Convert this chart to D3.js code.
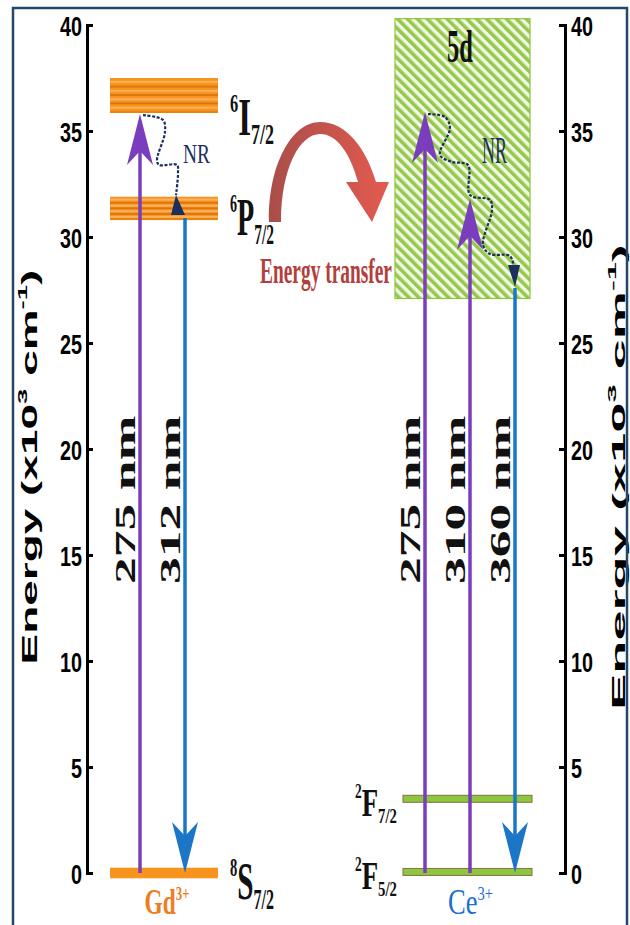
<!DOCTYPE html>
<html lang="en">
<head>
<meta charset="utf-8">
<title>Gd3+ to Ce3+ energy transfer diagram</title>
<script src="https://d3js.org/d3.v7.min.js"></script>
<style>
  body { margin: 0; background: #fff; }
  svg { display: block; }
</style>
</head>
<body>
<script>
// ---- data ----
var energyTicks = [0, 5, 10, 15, 20, 25, 30, 35, 40];
var gdLevels = [
  {sup: "6", term: "I", sub: "7/2", lo: 35.85, hi: 37.5},
  {sup: "6", term: "P", sub: "7/2", lo: 30.8, hi: 31.9},
  {sup: "8", term: "S", sub: "7/2", lo: -0.25, hi: 0.25}
];
var ceLevels = [
  {sup: "2", term: "F", sub: "7/2", e: 3.5},
  {sup: "2", term: "F", sub: "5/2", e: 0.05}
];
var ce5d = {name: "5d", lo: 27.1, hi: 40.3};
var gdArrows = [
  {label: "275 nm", from: 0, to: 35.8},
  {label: "312 nm", from: 30.9, to: 0}
];
var ceArrows = [
  {label: "275 nm", from: 0, to: 35.9},
  {label: "310 nm", from: 0, to: 31.8},
  {label: "360 nm", from: 27.6, to: 0}
];
// non radiative relaxation, energies along the wiggle
var gdNR = [35.75, 35.52, 34.95, 33.63, 33.4, 33.4, 33.02, 31.98];
var ceNR = [35.8, 35.66, 35.14, 33.87, 33.54, 33.4, 31.98, 31.75, 31.27, 29.62, 29.2, 29.1, 28.54];

// ---- layout ----
var w = 630, h = 925;
var serif = "'Liberation Serif', 'Times New Roman', serif";
var sans = "'Liberation Sans', Arial, sans-serif";
var purple = "#7a3dbd", blue = "#1b76c8", navy = "#1d2f5f";
var orange = "#f7941e";
var gdNRdx = [3, 23, 25, 17, 19, 37, 38, 36];
var ceNRdx = [3, 20, 25, 15, 27, 43, 45, 65, 67, 58, 65, 85, 89];
var gdLabelDy = [22, 15, 21];

var y = d3.scaleLinear().domain([0, 40]).range([873, 25]);
var gdX = [110, 218], ceX = [403, 532], boxX = [395, 530];
var xGd = d3.scalePoint().domain(gdArrows.map(function(d) { return d.label; })).range([140, 185]);
var xCe = d3.scalePoint().domain(ceArrows.map(function(d) { return d.label; })).range([425, 515]);

var svg = d3.select("body").append("svg")
  .attr("width", w)
  .attr("height", h);

var defs = svg.append("defs");
var pat = defs.append("pattern")
  .attr("id", "hatch")
  .attr("patternUnits", "userSpaceOnUse")
  .attr("width", 7).attr("height", 7)
  .attr("patternTransform", "rotate(-45)");
pat.append("rect").attr("width", 7).attr("height", 7).attr("fill", "#f3f9e6");
pat.append("rect").attr("width", 3.6).attr("height", 7).attr("fill", "#94c94c");

var grad = defs.append("linearGradient")
  .attr("id", "etGrad")
  .attr("gradientUnits", "userSpaceOnUse")
  .attr("x1", 269).attr("x2", 388).attr("y1", 0).attr("y2", 0);
grad.append("stop").attr("offset", 0).attr("stop-color", "#a94e4a");
grad.append("stop").attr("offset", 1).attr("stop-color", "#e35a4f");

// helper: squeeze text along its length to a given width
function fit(t, len) {
  return len / t.node().getBBox().width;
}

// ---- axes ----
var axL = svg.append("g")
  .attr("transform", "translate(87,0)")
  .call(d3.axisLeft(y).tickValues(energyTicks).tickSize(-6).tickPadding(5));
var axR = svg.append("g")
  .attr("transform", "translate(565,0)")
  .call(d3.axisRight(y).tickValues(energyTicks).tickSize(-6).tickPadding(6));
[axL, axR].forEach(function(ax) {
  ax.select(".domain").attr("stroke", "#000").attr("stroke-width", 3);
  ax.selectAll(".tick line").attr("stroke", "#000").attr("stroke-width", 3);
  ax.selectAll(".tick text")
    .attr("font-family", sans)
    .attr("font-weight", "bold")
    .attr("font-size", 28)
    .attr("fill", "#000")
    .attr("dy", "0.36em")
    .attr("textLength", function(d) { return String(d).length * 11; })
    .attr("lengthAdjust", "spacingAndGlyphs");
});

function axisTitle(cx, cy, fs, len) {
  var t = svg.append("text")
    .attr("font-family", sans)
    .attr("font-weight", "bold")
    .attr("font-size", fs)
    .attr("text-anchor", "middle")
    .attr("fill", "#000");
  t.append("tspan").text("Energy (x10");
  t.append("tspan").attr("font-size", fs * 0.6).attr("dy", -fs * 0.45).text("3");
  t.append("tspan").attr("dy", fs * 0.45).text("\u00a0cm");
  t.append("tspan").attr("font-size", fs * 0.6).attr("dy", -fs * 0.45).text("-1");
  t.append("tspan").attr("dy", fs * 0.45).text(")");
  t.attr("transform", "translate(" + cx + "," + cy + ") rotate(-90) scale(" + fit(t, len) + ",1)");
}
axisTitle(37, 467, 22, 395);
axisTitle(625, 477, 19, 466);

// ---- Ce 5d band ----
svg.append("rect")
  .attr("x", boxX[0]).attr("width", boxX[1] - boxX[0])
  .attr("y", y(ce5d.hi)).attr("height", y(ce5d.lo) - y(ce5d.hi))
  .attr("fill", "url(#hatch)")
  .attr("stroke", "#8cc63f").attr("stroke-width", 1.2);

// ---- Gd levels ----
var gLev = svg.append("g");
gdLevels.forEach(function(d) {
  var y0 = y(d.hi), hh = y(d.lo) - y(d.hi);
  gLev.append("rect")
    .attr("x", gdX[0]).attr("width", gdX[1] - gdX[0])
    .attr("y", y0).attr("height", hh)
    .attr("fill", orange);
  if (hh > 15) {
    [0.08, 0.34, 0.58, 0.82].forEach(function(f) {
      gLev.append("rect").attr("x", gdX[0]).attr("width", gdX[1] - gdX[0])
        .attr("y", y0 + f * hh).attr("height", 2).attr("fill", "#fbb25a");
    });
    [0.22, 0.46, 0.7].forEach(function(f) {
      gLev.append("rect").attr("x", gdX[0]).attr("width", gdX[1] - gdX[0])
        .attr("y", y0 + f * hh).attr("height", 1.8).attr("fill", "#dc7410");
    });
    gLev.append("rect").attr("x", gdX[0]).attr("width", gdX[1] - gdX[0])
      .attr("y", y0 + hh - 2).attr("height", 2).attr("fill", "#e8850f");
  }
});

// ---- Ce levels ----
ceLevels.forEach(function(d) {
  gLev.append("rect")
    .attr("x", ceX[0]).attr("width", ceX[1] - ceX[0])
    .attr("y", y(d.e) - 3.5).attr("height", 7)
    .attr("fill", "#8dc63f")
    .attr("stroke", "#86713f").attr("stroke-width", 1);
});

// ---- arrows ----
function drawArrow(x, d) {
  var up = d.to > d.from;
  var col = up ? purple : blue;
  var yTip = y(d.to), s = up ? 1 : -1;
  svg.append("line")
    .attr("x1", x).attr("x2", x)
    .attr("y1", y(d.from)).attr("y2", yTip + s * 30)
    .attr("stroke", col).attr("stroke-width", 3.5);
  svg.append("path")
    .attr("d", "M" + x + "," + yTip +
      "L" + (x - 13) + "," + (yTip + s * 51) +
      "L" + x + "," + (yTip + s * 37) +
      "L" + (x + 13) + "," + (yTip + s * 51) + "Z")
    .attr("fill", col);
  svg.append("text")
    .attr("font-family", serif)
    .attr("font-weight", "bold")
    .attr("font-size", 29)
    .attr("text-anchor", "middle")
    .attr("fill", "#111")
    .attr("transform", "translate(" + (x - 5) + "," + y(17.6) + ") rotate(-90) scale(1.85,1)")
    .text(d.label);
}
gdArrows.forEach(function(d) { drawArrow(xGd(d.label), d); });
ceArrows.forEach(function(d) { drawArrow(xCe(d.label), d); });

// ---- non radiative wiggles ----
function wiggle(x0, dx, es) {
  var pts = es.map(function(e, i) { return [x0 + dx[i], y(e)]; });
  svg.append("path")
    .attr("d", d3.line().curve(d3.curveCatmullRom)(pts))
    .attr("fill", "none")
    .attr("stroke", navy)
    .attr("stroke-width", 2.2)
    .attr("stroke-dasharray", "3,1.6");
}
var gx0 = xGd(gdArrows[0].label), cx0 = xCe(ceArrows[0].label);
wiggle(gx0, gdNRdx, gdNR);
wiggle(cx0, ceNRdx, ceNR);
svg.append("path")
  .attr("d", "M" + (gx0 + 36) + "," + y(31.98) + "L" + (gx0 + 31) + "," + y(31.04) + "L" + (gx0 + 45) + "," + y(31.04) + "Z")
  .attr("fill", navy);
svg.append("path")
  .attr("d", "M" + (cx0 + 83) + "," + y(28.68) + "L" + (cx0 + 95) + "," + y(28.68) + "L" + (cx0 + 90) + "," + y(27.64) + "Z")
  .attr("fill", navy);

// ---- energy transfer arrow ----
svg.append("path")
  .attr("d", "M269,222 C268,165 292,122 320,122 C346,122 366,148 376,182 L389,182 L372,222 L346,182 L358,182 " +
    "C350,153 337,134 320,134 C300,134 281,168 281,222 Z")
  .attr("fill", "url(#etGrad)");

// ---- labels ----
function plain(x, yb, str, fs, width, opts) {
  var t = svg.append("text")
    .attr("font-family", serif)
    .attr("font-size", fs)
    .attr("font-weight", opts.bold ? "bold" : "normal")
    .attr("fill", opts.fill || "#111");
  t.append("tspan").text(str);
  if (opts.sup) {
    t.append("tspan").attr("font-size", fs * 0.55).attr("dy", -fs * 0.38).text(opts.sup);
  }
  var s = fit(t, width);
  var x0 = opts.center ? x - width / 2 : x;
  t.attr("transform", "translate(" + x0 + "," + yb + ") scale(" + s + ",1)");
  return t;
}
function termLabel(x, yb, d, fs, width) {
  var t = svg.append("text")
    .attr("font-family", serif)
    .attr("font-weight", "bold")
    .attr("fill", "#111");
  t.append("tspan").attr("font-size", fs * 0.5).attr("dy", -fs * 0.45).text(d.sup);
  t.append("tspan").attr("font-size", fs).attr("dy", fs * 0.45).text(d.term);
  t.append("tspan").attr("font-size", fs * 0.55).attr("dy", fs * 0.18).text(d.sub);
  t.attr("transform", "translate(" + x + "," + yb + ") scale(" + fit(t, width) + ",1)");
}
gdLevels.forEach(function(d, i) { termLabel(230, y(d.lo) + gdLabelDy[i], d, 52, 44); });
ceLevels.forEach(function(d) { termLabel(355, y(d.e) + 17, d, 40, 42); });

plain(gx0 + 43, 163, "NR", 27, 27, {fill: navy});
plain(cx0 + 57, 163, "NR", 37, 25, {fill: navy});
plain(447, 62, ce5d.name, 46, 26, {bold: true});
plain(260, 283, "Energy transfer", 36, 132, {bold: true, fill: "#b3403c"});
plain((gdX[0] + gdX[1]) / 2 + 3, 914, "Gd", 36, 45, {fill: "#ee7d1e", sup: "3+", center: true, bold: true});
plain((ceX[0] + ceX[1]) / 2 + 3, 914, "Ce", 36, 45, {fill: "#1a6fd0", sup: "3+", center: true});

// ---- frame ----
svg.append("rect")
  .attr("x", 13).attr("y", 8)
  .attr("width", 614).attr("height", 1000)
  .attr("fill", "none")
  .attr("stroke", "#24476b")
  .attr("stroke-width", 2.5);
</script>
</body>
</html>
